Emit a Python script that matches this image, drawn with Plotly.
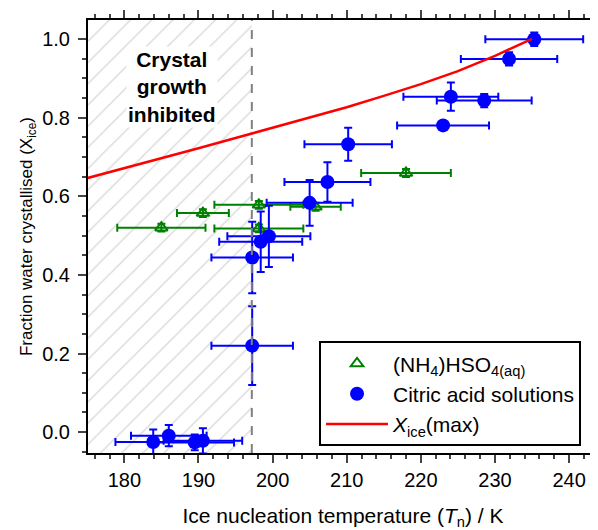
import plotly.graph_objects as go

# ---------------- data ----------------
# Citric acid solutions
ca_T = [235.3, 231.9, 224.05, 228.55, 223.0, 210.2, 207.4, 205.0, 199.5, 198.4, 197.25, 197.25, 183.9, 186.0, 189.5, 190.6]
ca_X = [0.999, 0.949, 0.853, 0.843, 0.780, 0.732, 0.636, 0.583, 0.498, 0.484, 0.444, 0.220, -0.025, -0.009, -0.026, -0.022]
ca_Terr = [6.6, 6.5, 6.4, 6.4, 6.2, 5.9, 5.8, 5.8, 5.6, 5.6, 5.5, 5.5, 5.1, 5.1, 5.3, 5.3]
ca_Xerr = [0.017, 0.017, 0.036, 0.017, 0.01, 0.042, 0.05, 0.058, 0.078, 0.077, 0.091, 0.1, 0.032, 0.027, 0.02, 0.032]

# (NH4)HSO4(aq)
am_T = [185.0, 190.6, 198.15, 198.15, 205.8, 218.0]
am_X = [0.520, 0.557, 0.578, 0.518, 0.573, 0.659]
am_Terr = [5.95, 3.5, 6.0, 6.0, 3.4, 6.05]
am_Xerr = [0.01, 0.01, 0.01, 0.01, 0.01, 0.01]

# X_ice(max) curve
max_T = [175, 180, 185, 190, 195, 200, 205, 210, 215, 220, 225, 230, 235]
max_X = [0.646, 0.671, 0.697, 0.722, 0.748, 0.774, 0.800, 0.826, 0.855, 0.885, 0.918, 0.957, 1.0]

T_inhibit = 197.2
x_range = [175.1, 243.9]
y_range = [-0.053, 1.048]

FONT = "Arial, Liberation Sans, sans-serif"
BLUE = "#0000ff"
GREEN = "#008000"

fig = go.Figure()

# hatched region
fig.add_trace(go.Scatter(
    x=[x_range[0], T_inhibit, T_inhibit, x_range[0], x_range[0]],
    y=[y_range[0], y_range[0], y_range[1], y_range[1], y_range[0]],
    mode="none", fill="toself", fillcolor="rgba(0,0,0,0)",
    fillpattern=dict(shape="/", fgcolor="#b8b8b8", bgcolor="white", size=15, solidity=0.1),
    showlegend=False, hoverinfo="skip"))

fig.add_trace(go.Scatter(
    x=am_T, y=am_X, mode="markers", name="(NH<sub>4</sub>)HSO<sub>4(aq)</sub>",
    marker=dict(symbol="triangle-up-open", size=11, color=GREEN, line=dict(width=2, color=GREEN)),
    error_x=dict(type="data", array=am_Terr, color=GREEN, thickness=2, width=4),
    error_y=dict(type="data", array=am_Xerr, color=GREEN, thickness=2, width=4)))

fig.add_trace(go.Scatter(
    x=ca_T, y=ca_X, mode="markers", name="Citric acid solutions",
    marker=dict(symbol="circle", size=14, color=BLUE),
    error_x=dict(type="data", array=ca_Terr, color=BLUE, thickness=2, width=4),
    error_y=dict(type="data", array=ca_Xerr, color=BLUE, thickness=2, width=4)))

fig.add_trace(go.Scatter(
    x=max_T, y=max_X, mode="lines", name="<i>X</i><sub>ice</sub>(max)",
    line=dict(color="#ff0000", width=2.5)))

fig.add_shape(type="line", x0=T_inhibit, x1=T_inhibit, y0=0, y1=1, xref="x", yref="paper",
              line=dict(color="#808080", width=2, dash="dash"))

fig.add_annotation(x=186.4, y=0.877, xref="x", yref="y",
                   text="<b>Crystal<br>growth<br>inhibited</b>", showarrow=False,
                   bgcolor="white", font=dict(family=FONT, size=21, color="black"),
                   align="center")

# page body has an 8px margin: figure is offset by (8, 8) in the window
fig.update_layout(
    width=590, height=522,
    margin=dict(l=80, r=0, t=12, b=77),
    plot_bgcolor="white", paper_bgcolor="white",
    font=dict(family=FONT, size=18, color="black"),
    showlegend=True,
    legend=dict(x=0.453, y=0.258, xanchor="left", yanchor="top",
                bordercolor="black", borderwidth=2, bgcolor="white",
                font=dict(family=FONT, size=21), tracegroupgap=0, itemwidth=62),
    xaxis=dict(range=x_range, dtick=10, tick0=180, ticks="outside", ticklen=8, tickwidth=1.5,
               showline=True, linecolor="black", linewidth=2, mirror="ticks",
               showgrid=False, zeroline=False, automargin=False,
               minor=dict(dtick=2, tick0=180, ticks="outside", ticklen=4, tickwidth=1.5, showgrid=False),
               title=dict(text="Ice nucleation temperature (<i>T</i><sub>n</sub>) / K", standoff=20,
                          font=dict(size=21)),
               tickfont=dict(size=20)),
    yaxis=dict(range=y_range, dtick=0.2, tick0=0, tickformat=".1f", ticks="outside", ticklen=8, tickwidth=1.5,
               showline=True, linecolor="black", linewidth=2, mirror=False,
               showgrid=False, zeroline=False, automargin=False, ticklabelstandoff=4,
               minor=dict(dtick=0.05, tick0=0, ticks="outside", ticklen=4, tickwidth=1.5, showgrid=False),
               title=dict(text="Fraction water crystallised (X<sub>ice</sub>)", standoff=5,
                          font=dict(size=17)),
               tickfont=dict(size=20)),
)

fig.write_html("out.html")
